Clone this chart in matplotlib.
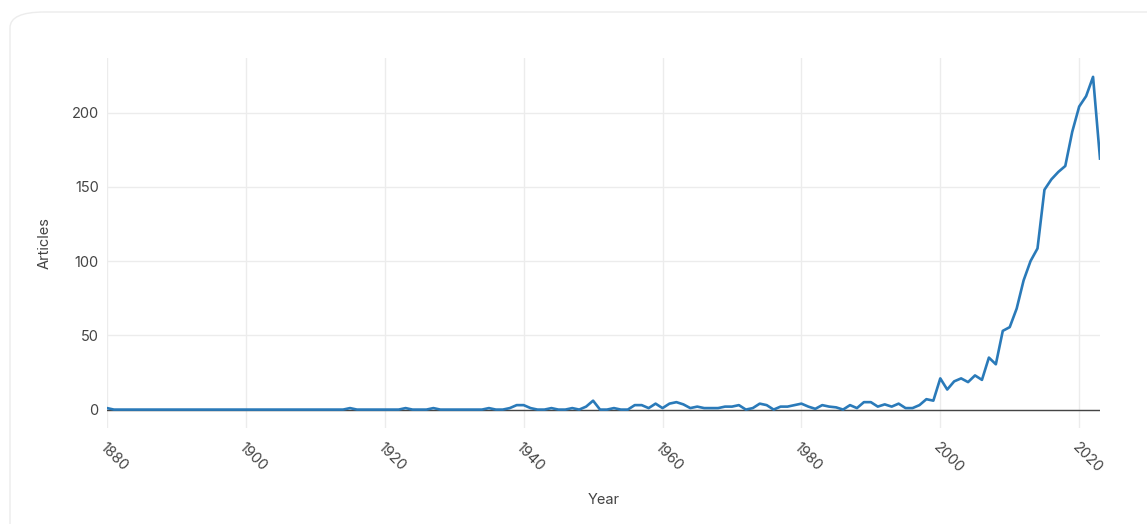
import matplotlib
matplotlib.use('Agg')
from matplotlib import pyplot as plt
from matplotlib.patches import FancyBboxPatch

plt.rcParams['font.family'] = ['Inter', 'DejaVu Sans']

years = list(range(1880, 2024))

# articles per year
counts_1880_1933 = [1] + [0] * 34 + [1] + [0] * 7 + [1] + [0] * 3 + [1] + [0] * 6
counts_1934_1999 = [
    0, 1, 0, 0, 1, 3,                   # 1934-1939
    3, 1, 0, 0, 1, 0, 0, 1, 0, 2,       # 1940s
    6, 0, 0, 1, 0, 0, 3, 3, 1, 4,       # 1950s
    1, 4, 5, 3.5, 1, 2, 1, 1, 1, 2,     # 1960s
    2, 3, 0, 1, 4, 3, 0, 2, 2, 3,       # 1970s
    4, 2, 0.5, 3, 2, 1.5, 0, 3, 1, 5,   # 1980s
    5, 2, 3.5, 2, 4, 1, 1, 3, 7, 6,     # 1990s
]
counts_2000_2023 = [
    21, 13.5, 19, 21, 18.5, 23, 20, 35, 30.5, 53, 55.5, 68,
    87, 100, 108.5, 148, 155, 160, 164, 187, 204, 211, 224, 169,
]
articles = counts_1880_1933 + counts_1934_1999 + counts_2000_2023

x_ticks = [1880, 1900, 1920, 1940, 1960, 1980, 2000, 2020]
y_ticks = [0, 50, 100, 150, 200]

fig = plt.figure(figsize=(11.47, 5.24), dpi=100)
card = FancyBboxPatch((10 / 1147, -0.05), 1.2, 1.0 - 12 / 524 + 0.05,
                      boxstyle='round,pad=0,rounding_size=0.03',
                      transform=fig.transFigure, facecolor='white',
                      edgecolor='#ececec', linewidth=1.0, zorder=-10)
fig.patches.append(card)

ax = fig.add_axes([107 / 1147, 96 / 524, 993 / 1147, 370 / 524])
ax.set_zorder(5)
ax.set_facecolor('none')
ax.plot(years, articles, color='#2a7ab9', linewidth=1.9, zorder=3)
ax.axhline(0, color='#444444', linewidth=1.0, zorder=2)

ax.set_xlim(1880, 2023)
ax.set_ylim(-12.4, 236.7)
ax.set_xticks(x_ticks)
ax.set_yticks(y_ticks)
ax.grid(True, color='#ececec', linewidth=1.0, zorder=0)
for s in ax.spines.values():
    s.set_visible(False)
ax.tick_params(length=0, colors='#444444', labelsize=10.5)
ax.tick_params(axis='y', pad=6)
ax.tick_params(axis='x', pad=9)
for lab in ax.get_xticklabels():
    lab.set_rotation(-45)
    lab.set_ha('left')
    lab.set_va('top')
    lab.set_rotation_mode('anchor')

ax.set_xlabel('Year', color='#444444', fontsize=10.5, labelpad=12)
ax.set_ylabel('Articles', color='#444444', fontsize=10.5, labelpad=14)

fig.savefig('out.png', dpi=100)
